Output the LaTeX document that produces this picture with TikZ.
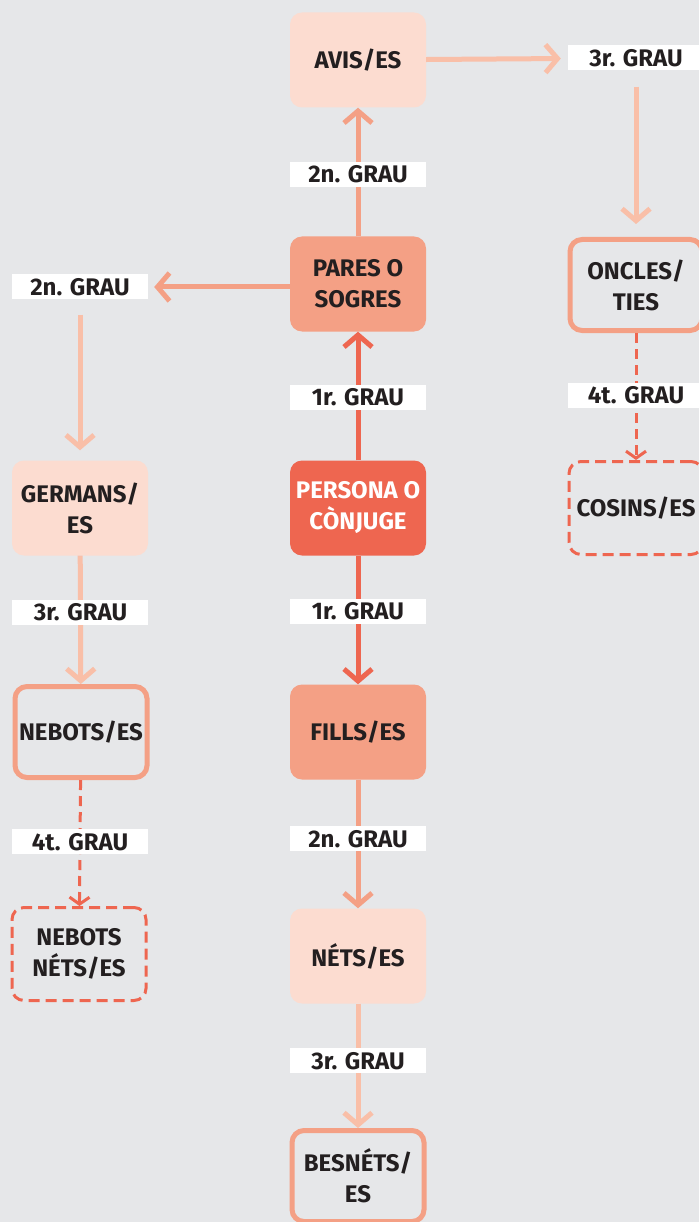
\documentclass[tikz,border=0pt]{standalone}
\usepackage{fontspec}
\setmainfont{Fira Sans}
\usetikzlibrary{arrows.meta}
\definecolor{bgGrey}{HTML}{E6E7E9}
\definecolor{peachLight}{HTML}{FCDCD0}
\definecolor{arrowLight}{HTML}{F9BFA8}
\definecolor{peachMid}{HTML}{F4A085}
\definecolor{coral}{HTML}{EE6650}
\definecolor{ink}{HTML}{231F20}
\begin{document}
\begin{tikzpicture}
            [x=1pt,y=-1pt,
             Box/.style={rectangle,rounded corners=12pt,minimum width=136pt,minimum height=95pt,inner sep=0pt,align=center,text=ink,font=\fontsize{24}{31}\selectfont\bfseries},
             LightBox/.style={Box,fill=peachLight},
             MidBox/.style={Box,fill=peachMid},
             MainBox/.style={Box,fill=coral,text=white},
             RingBox/.style={Box,draw=peachMid,line width=5pt,minimum width=132pt,minimum height=91pt},
             DashBox/.style={Box,draw=coral,line width=3pt,dash pattern=on 11pt off 6pt,minimum width=134pt,minimum height=93pt},
             Grau/.style={rectangle,fill=white,minimum width=136pt,minimum height=25pt,inner sep=0pt,text=ink,font=\fontsize{24}{25}\selectfont\bfseries},
             Link/.style={line width=5pt,-{Straight Barb[length=12pt,width=28pt]}},
             LightLink/.style={Link,arrowLight},
             MidLink/.style={Link,peachMid},
             MainLink/.style={Link,coral},
             DashLink/.style={line width=3pt,coral,dash pattern=on 10pt off 6pt,-{Straight Barb[length=7pt,width=20pt]}}];
            \useasboundingbox (0,0) rectangle (699,1222);
            \fill[bgGrey] (0,0) rectangle (699,1222);
            \clip (0,0) rectangle (699,1222);
            \node[LightBox] (avis) at (358,60) {AVIS/ES};
            \node[MidBox] (pares) at (358,284) {PARES O\\SOGRES};
            \node[MainBox] (persona) at (358,508) {PERSONA O\\CÒNJUGE};
            \node[MidBox] (fills) at (358,732) {FILLS/ES};
            \node[LightBox] (nets) at (358,956) {NÉTS/ES};
            \node[RingBox] (besnets) at (358,1176) {BESNÉTS/\\ES};
            \node[Grau] (g3top) at (636,58) {3r. GRAU};
            \node[RingBox] (oncles) at (636,285) {ONCLES/\\TIES};
            \node[DashBox] (cosins) at (636,508) {COSINS/ES};
            \node[Grau] (g2left) at (80,287) {2n. GRAU};
            \node[LightBox] (germans) at (80,508) {GERMANS/\\ES};
            \node[RingBox] (nebots) at (81,732) {NEBOTS/ES};
            \node[DashBox] (nebotsnets) at (79,954) {NEBOTS\\NÉTS/ES};
            \draw [MidLink] (pares) to node[Grau,pos=.48] (g2top) {2n. GRAU} (avis);
            \draw [MainLink] (persona) to node[Grau,pos=.49] (g1up) {1r. GRAU} (pares);
            \draw [MainLink] (persona) to node[Grau,pos=.43] (g1down) {1r. GRAU} (fills);
            \draw [MidLink] (fills) to node[Grau,pos=.46] (g2down) {2n. GRAU} (nets);
            \draw [LightLink] (nets) to node[Grau,pos=.46] (g3down) {3r. GRAU} (besnets);
            \draw [LightLink,shorten >=7pt] (avis) to (g3top);
            \draw [LightLink,shorten <=16pt,shorten >=13pt] (g3top) to (oncles);
            \draw [DashLink] (oncles) to node[Grau,pos=.49] (g4top) {4t. GRAU} (cosins);
            \draw [MidLink,shorten >=6pt] (pares.west |- g2left) to (g2left);
            \draw [LightLink,shorten <=15pt,shorten >=10pt] (g2left) to (germans);
            \draw [LightLink] (germans) to node[Grau,pos=.44] (g3left) {3r. GRAU} (nebots);
            \draw [DashLink] (nebots) to node[Grau,pos=.49] (g4left) {4t. GRAU} (nebotsnets);
        \end{tikzpicture}
\end{document}
